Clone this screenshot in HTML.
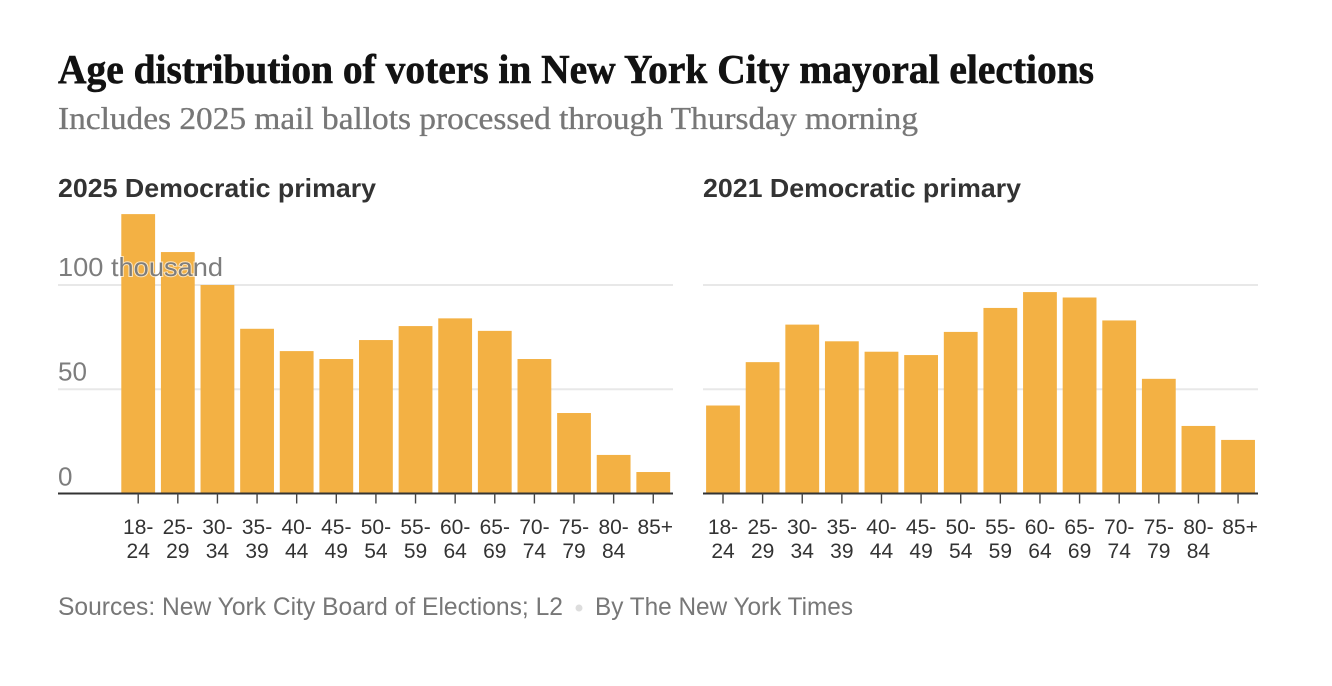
<!DOCTYPE html>
<html lang="en">
<head>
<meta charset="utf-8">
<title>Age distribution of voters in New York City mayoral elections</title>
<style>
html,body{margin:0;padding:0;background:#fff;width:1332px;height:686px;overflow:hidden}
svg{display:block;font-family:"Liberation Sans",sans-serif}
</style>
</head>
<body>
<svg id="chart" width="1332" height="686" viewBox="0 0 1332 686" xmlns="http://www.w3.org/2000/svg">
  <rect width="1332" height="686" fill="#fff"/>
  <text x="58" y="83" font-family="'Liberation Serif',serif" font-weight="700" font-size="41" fill="#121212" stroke="#121212" stroke-width="0.6" textLength="1036" lengthAdjust="spacingAndGlyphs">Age distribution of voters in New York City mayoral elections</text>
  <text x="58" y="129" font-family="'Liberation Serif',serif" font-size="32" fill="#777" stroke="#777" stroke-width="0.35" textLength="860" lengthAdjust="spacingAndGlyphs">Includes 2025 mail ballots processed through Thursday morning</text>
  <text x="58" y="197" font-weight="700" font-size="26" fill="#333" textLength="318" lengthAdjust="spacingAndGlyphs">2025 Democratic primary</text>
  <text x="703" y="197" font-weight="700" font-size="26" fill="#333" textLength="318" lengthAdjust="spacingAndGlyphs">2021 Democratic primary</text>
  <g id="plots"></g>
  <text x="58" y="615" font-size="25" fill="#777" textLength="505" lengthAdjust="spacingAndGlyphs">Sources: New York City Board of Elections; L2</text>
  <circle cx="579" cy="608" r="3.5" fill="#ddd"/>
  <text x="595" y="615" font-size="25" fill="#777" textLength="258" lengthAdjust="spacingAndGlyphs">By The New York Times</text>
</svg>
<script>
const ageStarts = ["18-","25-","30-","35-","40-","45-","50-","55-","60-","65-","70-","75-","80-","85+"];
const ageEnds = ["24","29","34","39","44","49","54","59","64","69","74","79","84",""];
const values2025 = [134,115.8,100,79,68.3,64.5,73.6,80.3,84,78,64.5,38.6,18.5,10.3];
const values2021 = [42.2,63,81,73,68,66.4,77.5,89,96.6,94,83,55,32.4,25.7];
const yTicks = [0,50,100];
const yTickLabels = ["0","50","100 thousand"];

const NS = "http://www.w3.org/2000/svg";
const root = document.getElementById("plots");
const BASE_Y = 493.5, PX_PER_THOUSAND = 2.085, STEP = 39.62, BAR_W = 33.8;
function yScale(v){ return BASE_Y - v * PX_PER_THOUSAND; }
function make(tag, attrs, parent){
  const el = document.createElementNS(NS, tag);
  for (const k in attrs) el.setAttribute(k, attrs[k]);
  parent.appendChild(el);
  return el;
}
function drawPanel(values, firstCenter, axisLeft, axisRight, showLabels){
  const g = make("g", {}, root);
  
  
  function xScale(i){ return firstCenter + i * STEP; }

  yTicks.forEach(function(t){
    if (t === 0) return;
    const line = make("line", {x1:axisLeft, x2:axisRight, y1:yScale(t), y2:yScale(t), stroke:"#e8e8e8", "stroke-width":2}, g);
    
    
  });

  values.forEach(function(v, i){
    const bar = make("rect", {x:xScale(i)-BAR_W/2, y:yScale(v), width:BAR_W, height:BASE_Y-yScale(v), fill:"#f3b144"}, g);
    
    
  });

  const axis = make("line", {x1:axisLeft, x2:axisRight, y1:BASE_Y, y2:BASE_Y, stroke:"#333", "stroke-width":2}, g);
  
  

  ageStarts.forEach(function(label, i){
    const cx = xScale(i);
    const tick = make("line", {x1:cx, x2:cx, y1:BASE_Y, y2:BASE_Y+10, stroke:"#444", "stroke-width":1.4}, g);
    
    
    const labelX = ageEnds[i] ? cx : cx + 2;
    const top = make("text", {x:labelX, y:534, "text-anchor":"middle", "font-size":21, fill:"#333"}, g);
    top.textContent = label;
    
    
    if (ageEnds[i]) {
      const bottom = make("text", {x:cx, y:558, "text-anchor":"middle", "font-size":21, fill:"#333"}, g);
      bottom.textContent = ageEnds[i];
      
      
    }
  });

  if (showLabels) {
    yTicks.forEach(function(t, i){
      const offset = t === 0 ? -8 : -9;
      const lab = make("text", {x:axisLeft, y:yScale(t)+offset, "font-size":26, fill:"#7d7d7d", stroke:"#fff", "stroke-width":2, "stroke-opacity":0.65, "paint-order":"stroke"}, g);
      lab.textContent = yTickLabels[i];
      if (t === 100) {
        lab.setAttribute("textLength", "165");
        lab.setAttribute("lengthAdjust", "spacingAndGlyphs");
      }
      
      
    });
  }
}
drawPanel(values2025, 138.2, 58, 673, true);
drawPanel(values2021, 723, 703, 1258, false);
</script>
</body>
</html>
